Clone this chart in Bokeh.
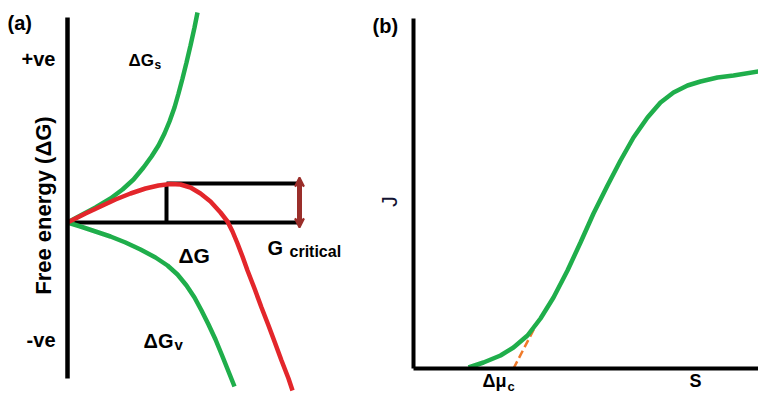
import math
from bokeh.plotting import figure
from bokeh.layouts import row
from bokeh.models import Range1d, FixedTicker, Label, Arrow, VeeHead
from bokeh.embed import file_html
from bokeh.resources import INLINE

FONT = "Liberation Sans"
GREEN = "#1fae4b"
RED = "#e3262b"
ORANGE = "#f07a2a"
DARKRED = "#9a2e2a"

# ---------------- Panel (a): free energy vs nucleus radius (arbitrary units) ----------------
r_surface = [0, 13, 28, 43, 55, 66, 76, 84, 91, 97, 102, 107, 111, 115, 119, 123, 127, 130]
dG_surface = [0, 7, 15, 24, 33, 43, 55, 66, 77, 89, 101, 115, 129, 144, 160, 177, 195, 210]

r_total = [0, 18, 33, 48, 63, 78, 91, 103, 113, 123, 133, 143, 153, 160, 165, 170, 175, 180,
           187, 194, 201, 207, 214, 221, 225]
dG_total = [0, 9, 16, 23, 29, 34, 37, 38.5, 38, 35, 29, 21, 10, 1, -9, -21, -34, -48,
            -66, -85, -103, -119, -138, -156, -168]

r_volume = [0, 13, 28, 43, 58, 73, 88, 100, 110, 119, 127, 134, 141, 148, 155, 163, 167]
dG_volume = [0, -4, -9, -14, -20, -27, -35, -43, -52, -63, -75, -88, -102, -117, -134, -154, -164]

r_star = 99          # critical radius (vertical marker)
dG_star = 39         # critical free energy barrier
r_box_end = 230      # right end of the reference lines
energy_ticks = [164, -117]
energy_tick_labels = ["+ve", "-ve"]

# ---------------- Panel (b): nucleation rate J vs supersaturation S ----------------
S_vals = [55, 70, 87, 100, 114, 127, 140, 154, 167, 180, 194, 207, 220, 234, 247, 260,
          274, 287, 304, 320, 345]
J_vals = [1, 6, 13, 21, 33, 50, 71, 98, 126, 155, 183, 208, 231, 251, 266, 276,
          283, 287, 291, 293, 297]
tangent_S = [100, 127]
tangent_J = [0, 52]
s_ticks = [81, 282]
s_tick_labels = ["\u0394\u03bc", "S"]


def style_axis(ax, width, size="20px"):
    ax.axis_line_width = width
    ax.axis_line_color = "black"
    ax.major_tick_line_color = None
    ax.minor_tick_line_color = None
    ax.major_tick_out = 0
    ax.major_tick_in = 0
    ax.major_label_text_font = FONT
    ax.major_label_text_font_style = "bold"
    ax.major_label_text_font_size = size
    ax.major_label_text_color = "black"


def lab(p, x, y, text, size, bold=True, align="left", baseline="alphabetic", angle=0.0,
        color="black"):
    p.add_layout(Label(x=x, y=y, text=text, text_font=FONT,
                       text_font_style="bold" if bold else "normal",
                       text_font_size=f"{size}px", text_align=align,
                       text_baseline=baseline, angle=angle, text_color=color))


# =========================== figure (a) ===========================
pa = figure(width=370, height=393,
            x_range=Range1d(-67, 303), y_range=Range1d(-171, 222),
            x_axis_location=None, output_backend="svg", toolbar_location=None,
            min_border=0, min_border_left=0, min_border_right=0,
            min_border_top=0, min_border_bottom=0)
pa.outline_line_color = None
pa.grid.visible = False
pa.background_fill_color = "white"
pa.border_fill_color = "white"

ya = pa.yaxis[0]
ya.fixed_location = 0
ya.bounds = (-156, 205)
ya.ticker = FixedTicker(ticks=energy_ticks)
ya.major_label_overrides = {t: l for t, l in zip(energy_ticks, energy_tick_labels)}
style_axis(ya, 4.5)
ya.major_label_standoff = 12

# reference lines of the barrier box
pa.segment(x0=[0, r_star, r_star], y0=[0, 0, dG_star],
           x1=[r_box_end, r_star, r_box_end], y1=[0, dG_star, dG_star],
           line_color="black", line_width=4)

pa.line(r_surface, dG_surface, line_color=GREEN, line_width=4.5)
pa.line(r_volume, dG_volume, line_color=GREEN, line_width=4.5)
pa.line(r_total, dG_total, line_color=RED, line_width=4.5)

arrow_x = r_box_end + 2
pa.add_layout(Arrow(x_start=arrow_x, y_start=-5, x_end=arrow_x, y_end=dG_star + 6,
                    line_color=DARKRED, line_width=5,
                    start=VeeHead(size=9, line_color=DARKRED, fill_color=DARKRED, line_width=2),
                    end=VeeHead(size=9, line_color=DARKRED, fill_color=DARKRED, line_width=2)))
pa.segment(x0=[arrow_x], y0=[-1], x1=[arrow_x], y1=[dG_star + 2],
           line_color="#c4504c", line_width=2)

lab(pa, -60, 211, "(a)", 20, baseline="top")
lab(pa, -24, 20, "Free energy  (\u0394G)", 22, align="center", baseline="middle",
    angle=math.pi / 2)
lab(pa, 61, 162, "\u0394G", 17)
lab(pa, 87, 158, "s", 12)
lab(pa, 76, -118, "\u0394G", 20)
lab(pa, 107, -122, "v", 15)
lab(pa, 111, -33, "\u0394G", 21)
lab(pa, 200, -25, "G", 20)
lab(pa, 222, -29, "critical", 16)

# =========================== figure (b) ===========================
pb = figure(width=388, height=393,
            x_range=Range1d(-43, 345), y_range=Range1d(-25, 368),
            output_backend="svg", toolbar_location=None,
            min_border=0, min_border_left=0, min_border_right=0,
            min_border_top=0, min_border_bottom=0)
pb.outline_line_color = None
pb.grid.visible = False
pb.background_fill_color = "white"
pb.border_fill_color = "white"

xb = pb.xaxis[0]
xb.fixed_location = 0
xb.bounds = (0, 345)
xb.ticker = FixedTicker(ticks=s_ticks)
xb.major_label_overrides = {t: l for t, l in zip(s_ticks, s_tick_labels)}
style_axis(xb, 4, "18px")
xb.major_label_standoff = 2

yb = pb.yaxis[0]
yb.fixed_location = 0
yb.bounds = (0, 350)
yb.ticker = FixedTicker(ticks=[])
style_axis(yb, 4)
yb.major_label_standoff = 0

pb.line(tangent_S, tangent_J, line_color=ORANGE, line_width=2.5, line_dash="8 4")
pb.line(S_vals, J_vals, line_color=GREEN, line_width=4.5)

lab(pb, -41, 354, "(b)", 20, baseline="top")
lab(pb, -24, 167, "J", 22, bold=False, align="center", baseline="middle",
    angle=math.pi / 2, color="#141432")
lab(pb, 94, -18, "c", 13)

layout = row(pa, pb)
open("out.html", "w").write(file_html(layout, INLINE))
